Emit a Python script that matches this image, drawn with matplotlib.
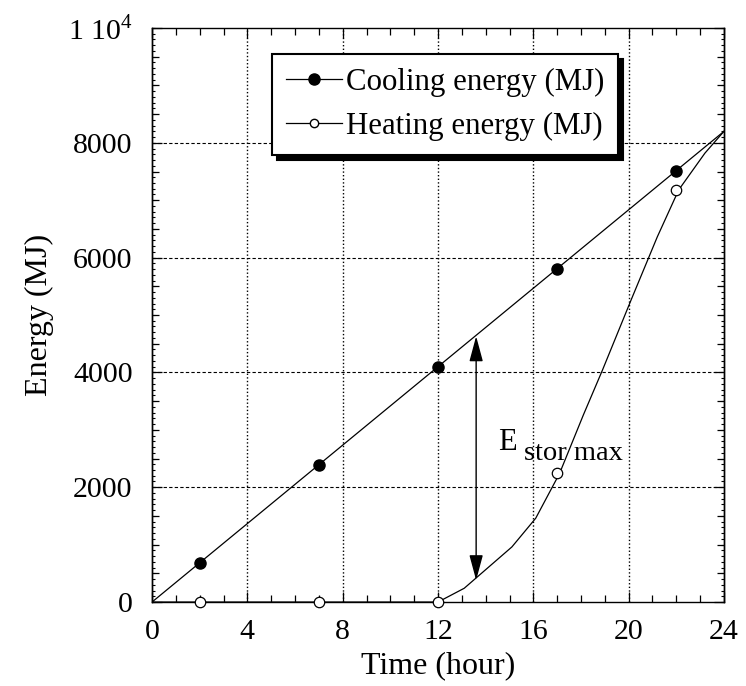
import numpy as np
import matplotlib
matplotlib.use('Agg')
import matplotlib.pyplot as plt
from matplotlib.patches import FancyArrowPatch

plt.rcParams['font.family'] = ['Liberation Serif', 'DejaVu Serif']
plt.rcParams['mathtext.fontset'] = 'custom'
plt.rcParams['mathtext.rm'] = 'Liberation Serif'

# marker points
hours = [2, 7, 12, 17, 22]
cooling = [683, 2392, 4100, 5808, 7517]
heating = [0, 0, 0, 2240, 7180]

# lines
cool_x = [0, 24]
cool_y = [0, 8200]
heat_x = [0, 12, 13.1, 15.1, 16.1, 17.1, 18.1, 18.9, 20.1, 20.8, 21.2, 22.1, 23.2, 24]
heat_y = [0, 0, 240, 960, 1460, 2240, 3260, 4040, 5260, 5960, 6360, 7180, 7820, 8200]

# E stor max arrow
arrow_x = 13.6
arrow_lo = 380
arrow_hi = 4630

fig = plt.figure(figsize=(7.46, 6.86), dpi=100)
ax = fig.add_axes([0.2038, 0.1224, 0.7667, 0.8368])

ax.plot(cool_x, cool_y, color='black', lw=0.9)
ax.plot(heat_x, heat_y, color='black', lw=0.9)
ax.plot(hours, cooling, 'o', color='black', ms=8, clip_on=False, zorder=5)
ax.plot(hours, heating, 'o', mfc='white', mec='black', mew=0.9, ms=7.5, clip_on=False, zorder=5)

# legend proxies
ax.plot([], [], '-o', color='black', lw=0.9, ms=8, label='Cooling energy (MJ)')
ax.plot([], [], '-o', color='black', lw=0.9, mfc='white', ms=6, label='Heating energy (MJ)')

arr = FancyArrowPatch((arrow_x, arrow_lo), (arrow_x, arrow_hi), arrowstyle='<|-|>,head_length=1.3,head_width=0.35',
                      color='black', lw=1.0, shrinkA=0, shrinkB=0, mutation_scale=12)
ax.add_patch(arr)
ax.text(14.5, 2650, 'E', fontsize=22, ha='left', va='baseline')
ax.text(15.6, 2470, 'stor max', fontsize=20.5, ha='left', va='baseline')

ax.set_xlim(0, 24)
ax.set_ylim(0, 10000)
ax.set_xticks(np.arange(0, 25, 4))
ax.set_xticks(np.arange(0, 25, 1), minor=True)
ax.set_yticks(np.arange(0, 10001, 2000))
ax.set_yticks(np.arange(0, 10001, 500), minor=True)
ax.set_yticklabels(['0', '2000', '4000', '6000', '8000', r'1 10$^{4}$'])
ax.tick_params(which='both', direction='in', top=True, right=True, labelsize=21.5, width=0.9)
ax.tick_params(axis='y', pad=14)
ax.tick_params(axis='x', pad=12)
ax.tick_params(which='major', length=7)
ax.tick_params(which='minor', length=5)

# tiny ticks every 100 on both y spines
for side in ['left', 'right']:
    sec = ax.secondary_yaxis(side)
    sec.set_yticks(np.arange(0, 10001, 100))
    sec.tick_params(direction='in', length=2.5, width=0.8, labelleft=False, labelright=False)
    sec.spines[side].set_linewidth(1.0)

for x in range(4, 24, 4):
    ax.axvline(x, color='black', lw=1.0, ls=(0, (1, 1.6)))
for y in range(2000, 10000, 2000):
    ax.axhline(y, color='black', lw=0.8, ls=(0, (3, 2)))

for s in ax.spines.values():
    s.set_linewidth(1.0)

ax.set_xlabel('Time (hour)', fontsize=23, labelpad=5)
ax.set_ylabel('Energy (MJ)', fontsize=23, labelpad=10)

leg = ax.legend(loc='upper left', bbox_to_anchor=(0.21, 0.955), fontsize=22.2, frameon=True, fancybox=False,
                shadow={'color': 'black', 'alpha': 1, 'ox': 3.5, 'oy': -3.5},
                handlelength=1.8, handletextpad=0.15, borderpad=0.45, labelspacing=0.5, borderaxespad=0)
leg.get_frame().set_edgecolor('black')
leg.get_frame().set_linewidth(1.5)
leg.get_frame().set_alpha(1)

fig.savefig('out.png', dpi=100)
